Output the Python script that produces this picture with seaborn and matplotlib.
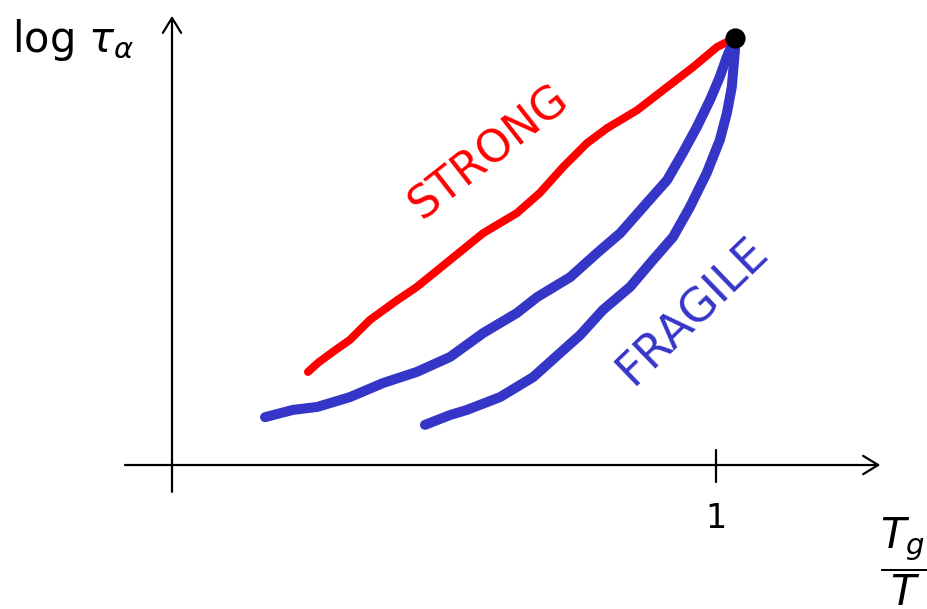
import matplotlib
matplotlib.use("Agg")
import matplotlib.pyplot as plt
import seaborn as sns
import pandas as pd

# Sketch of the Angell plot: log relaxation time against Tg/T
strong_x = [0.250, 0.268, 0.300, 0.327, 0.364, 0.414, 0.450, 0.511, 0.572, 0.634,
            0.676, 0.719, 0.763, 0.800, 0.855, 0.910, 0.958, 1.002, 1.035]
strong_y = [0.218, 0.239, 0.269, 0.293, 0.340, 0.386, 0.417, 0.480, 0.543, 0.590,
            0.637, 0.698, 0.754, 0.789, 0.831, 0.885, 0.932, 0.979, 1.000]

fragile1_x = [0.171, 0.222, 0.267, 0.327, 0.388, 0.450, 0.511, 0.572, 0.634, 0.671,
              0.732, 0.781, 0.824, 0.873, 0.910, 0.939, 0.965, 0.989, 1.007, 1.020, 1.035]
fragile1_y = [0.112, 0.129, 0.136, 0.159, 0.192, 0.218, 0.253, 0.309, 0.356, 0.393,
              0.440, 0.496, 0.543, 0.614, 0.667, 0.731, 0.792, 0.855, 0.909, 0.956, 1.000]

fragile2_x = [0.465, 0.511, 0.542, 0.603, 0.664, 0.713, 0.750, 0.792, 0.842, 0.884,
              0.921, 0.952, 0.983, 1.007, 1.020, 1.029, 1.035, 1.035]
fragile2_y = [0.094, 0.117, 0.129, 0.159, 0.206, 0.262, 0.304, 0.363, 0.417, 0.480,
              0.534, 0.604, 0.684, 0.761, 0.824, 0.885, 0.948, 1.000]

glass_point_x = [1.035]
glass_point_y = [1.000]

tick_positions = [1]
tick_labels = ["1"]

RED = "#ff0000"
BLUE = "#3535c8"

sns.set_theme(style="white")
plt.rcParams["font.family"] = ["DejaVu Sans"]

fig = plt.figure(figsize=(9.28, 6.09), dpi=100)
ax = fig.add_axes([0, 0, 1, 1])
ax.set_xlim(-0.3162, 1.3897)
ax.set_ylim(-0.3372, 1.0890)
ax.axis("off")

curves = pd.DataFrame({
    "x": strong_x + fragile1_x + fragile2_x,
    "y": strong_y + fragile1_y + fragile2_y,
    "curve": (["strong"] * len(strong_x) + ["fragile a"] * len(fragile1_x)
              + ["fragile b"] * len(fragile2_x)),
})

sns.lineplot(data=curves[curves.curve == "strong"], x="x", y="y", sort=False,
             color=RED, lw=5.8, solid_capstyle="round", solid_joinstyle="round",
             ax=ax, legend=False)
for name in ["fragile a", "fragile b"]:
    sns.lineplot(data=curves[curves.curve == name], x="x", y="y", sort=False,
                 color=BLUE, lw=7.2, solid_capstyle="round", solid_joinstyle="round",
                 ax=ax, legend=False)

sns.scatterplot(x=glass_point_x, y=glass_point_y, s=170, color="black",
                edgecolor="black", linewidth=1.5, ax=ax, zorder=5, legend=False)

# axes drawn as arrows
arrow = dict(arrowstyle="->,head_length=0.9,head_width=0.55", lw=1.6, color="black",
             shrinkA=0, shrinkB=0)
ax.annotate("", xy=(1.302, 0.0), xytext=(-0.0864, 0.0), arrowprops=arrow)
ax.annotate("", xy=(0.0, 1.052), xytext=(0.0, -0.063), arrowprops=arrow)

for t, lab in zip(tick_positions, tick_labels):
    ax.plot([t, t], [0.035, -0.040], color="black", lw=1.6)
    ax.text(t, -0.125, lab, ha="center", va="center", fontsize=24, color="black")

ax.text(-0.295, 0.995, r"log $\tau_\alpha$", ha="left", va="center", fontsize=30,
        color="black")
ax.text(1.345, -0.228, r"$\dfrac{T_g}{T}$", ha="center", va="center", fontsize=30,
        color="black")

ax.text(0.582, 0.733, "STRONG", rotation=38, ha="center", va="center",
        fontsize=32, color=RED, rotation_mode="anchor")
ax.text(0.958, 0.360, "FRAGILE", rotation=44, ha="center", va="center",
        fontsize=33, color=BLUE, rotation_mode="anchor")

fig.savefig("out.png", dpi=100)
